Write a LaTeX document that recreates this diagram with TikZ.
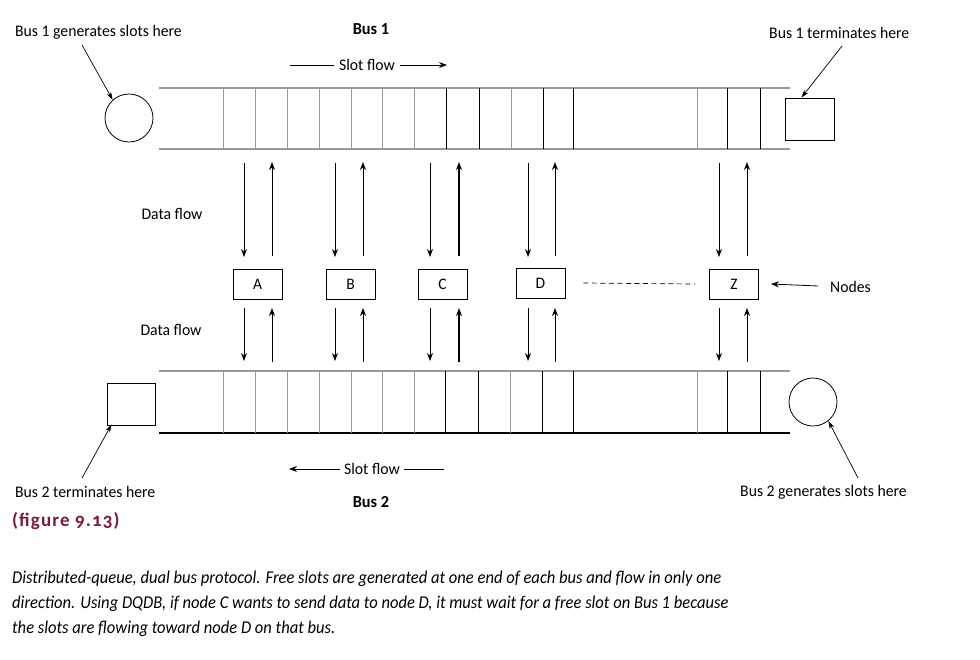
\documentclass[tikz,border=0pt]{standalone}
\usepackage{fontspec}
\setmainfont{Carlito}
\newfontfamily\condfont[FakeStretch=0.97]{Carlito}
\newfontfamily\capfont[FakeStretch=0.92]{Carlito}
\newfontfamily\figfont[LetterSpace=6,Numbers=OldStyle]{Carlito}
\usetikzlibrary{arrows.meta}
\definecolor{railgray}{gray}{0.6}
\definecolor{figred}{HTML}{7A1A40}
\begin{document}
\begin{tikzpicture}[x=1pt,y=-1pt,
  lbl/.style={font=\condfont\fontsize{16.2}{18}\selectfont, inner sep=0pt},
  boldlbl/.style={font=\condfont\bfseries\fontsize{16.8}{18}\selectfont, inner sep=0pt},
  nodebox/.style={draw, line width=0.9pt, minimum width=49pt, minimum height=30pt, inner sep=0pt, font=\condfont\fontsize{16}{18}\selectfont},
  rail/.style={draw=railgray, line width=1.4pt},
  slotg/.style={draw=railgray, line width=1pt},
  slotb/.style={draw=black, line width=0.8pt},
  arr/.style={-{Stealth[length=8pt,width=6pt]}, line width=0.8pt},
  thickarr/.style={-{Stealth[length=8pt,width=6pt]}, line width=1.6pt},
  callout/.style={-{Stealth[length=8pt,width=5pt]}, line width=0.7pt}]
\useasboundingbox (0,0) rectangle (980,659);

% ---- Bus 1 (top)
\draw[rail] (159,88) -- (790,88);
\draw[rail] (159,149) -- (790,149);
\foreach \x in {223,255,287,319,351,382,414,511,697}
  \draw[slotg] (\x,88) -- (\x,149);
\foreach \x in {446,479,543,573,727,760}
  \draw[slotb] (\x,88) -- (\x,149);

% ---- Bus 2 (bottom)
\draw[rail] (159,371) -- (790,371);
\draw[line width=2.2pt] (159,433) -- (790,433);
\foreach \x in {223,255,287,319,351,382,414,510,697}
  \draw[slotg] (\x,371) -- (\x,433);
\foreach \x in {445,478,542,573,727,760}
  \draw[slotb] (\x,371) -- (\x,433);

% ---- generators / terminators
\node[circle, draw, line width=0.8pt, minimum size=48pt, inner sep=0pt] (gen1) at (129,118) {};
\node[draw, line width=0.9pt, minimum width=49pt, minimum height=42pt, inner sep=0pt] (term1) at (809.5,119) {};
\node[draw, line width=0.9pt, minimum width=48pt, minimum height=42pt, inner sep=0pt] (term2) at (131,404) {};
\node[circle, draw, line width=0.8pt, minimum size=48pt, inner sep=0pt] (gen2) at (813,402) {};

% ---- labels
\node[lbl, anchor=west] (g1lbl) at (15,32) {Bus 1 generates slots here};
\node[lbl, anchor=west] (t1lbl) at (769,33) {Bus 1 terminates here};
\node[lbl, anchor=west] (t2lbl) at (15,492) {Bus 2 terminates here};
\node[lbl, anchor=west] (g2lbl) at (740,492) {Bus 2 generates slots here};
\node[boldlbl] (bus1) at (371,29) {Bus 1};
\node[boldlbl] (bus2) at (371,502) {Bus 2};
\node[lbl] (df1) at (172,214) {Data flow};
\node[lbl] (df2) at (171,330) {Data flow};
\node[lbl, anchor=west] (nodeslbl) at (830,287) {Nodes};

% callout arrows
\coordinate (c1) at (82,45);
\coordinate (c2) at (842,46);
\coordinate (c3) at (82,478);
\coordinate (c4) at (858,478);
\draw[callout] (c1) -- (gen1.132);
\draw[callout] (c2) -- ([xshift=-8pt]term1.north);
\draw[callout] (c3) -- ([xshift=5pt,yshift=1pt]term2.south west);
\draw[callout] (c4) -- (gen2.-51);

% ---- slot flow labels
\node[lbl, inner sep=5pt] (sf1) at (367,65) {Slot flow};
\coordinate (sf1l) at (290,65);
\coordinate (sf1r) at (447,65);
\draw[line width=0.8pt] (sf1l) -- (sf1.west);
\draw[arr] (sf1.east) -- (sf1r);
\node[lbl, inner sep=4pt] (sf2) at (372,469) {Slot flow};
\coordinate (sf2l) at (289,469);
\coordinate (sf2r) at (444,469);
\draw[arr] (sf2.west) -- (sf2l);
\draw[line width=0.8pt] (sf2.east) -- (sf2r);

% ---- station nodes
\node[nodebox] (A) at (257.5,284) {A};
\node[nodebox] (B) at (350.5,284) {B};
\node[nodebox] (C) at (442.5,284) {C};
\node[nodebox] (D) at (540.5,283) {D};
\node[nodebox] (Z) at (734,284) {Z};

\draw[dashed, dash pattern=on 5pt off 3.5pt, line width=0.7pt] ([xshift=18pt]D.east) -- ([xshift=-14pt]Z.west);
\coordinate (nodesarr) at (818,286);
\draw[arr] (nodesarr) -- ([xshift=12pt]Z.east);

% ---- data flow arrows
\foreach \n/\dx/\ux/\st in {A/244/272/arr, B/335/363/arr, C/430/459/thickarr, D/528/555/arr, Z/719/747/arr} {
  \coordinate (\n-dt) at (\dx,163);
  \coordinate (\n-db) at (\dx,257);
  \coordinate (\n-ut) at (\ux,162);
  \coordinate (\n-ub) at (\ux,256);
  \coordinate (\n-ldt) at (\dx,308);
  \coordinate (\n-ldb) at (\dx,361);
  \coordinate (\n-lut) at (\ux,308);
  \coordinate (\n-lub) at (\ux,362);
  \draw[arr] (\n-dt) -- (\n-db);
  \draw[\st] (\n-ub) -- (\n-ut);
  \draw[arr] (\n-ldt) -- (\n-ldb);
  \draw[\st] (\n-lub) -- (\n-lut);
}

% ---- caption
\node[anchor=west, inner sep=0pt, text=figred, font=\figfont\bfseries\fontsize{19}{22}\selectfont] (fig) at (12,521) {(figure 9.13)};
\node[anchor=north west, inner sep=0pt, align=left, font=\capfont\itshape\fontsize{18}{25}\selectfont] (cap) at (12,571)
 {Distributed-queue, dual bus protocol. Free slots are generated at one end of each bus and flow in only one\\
  direction. Using DQDB, if node C wants to send data to node D, it must wait for a free slot on Bus 1 because\\
  the slots are flowing toward node D on that bus.};
\end{tikzpicture}
\end{document}
